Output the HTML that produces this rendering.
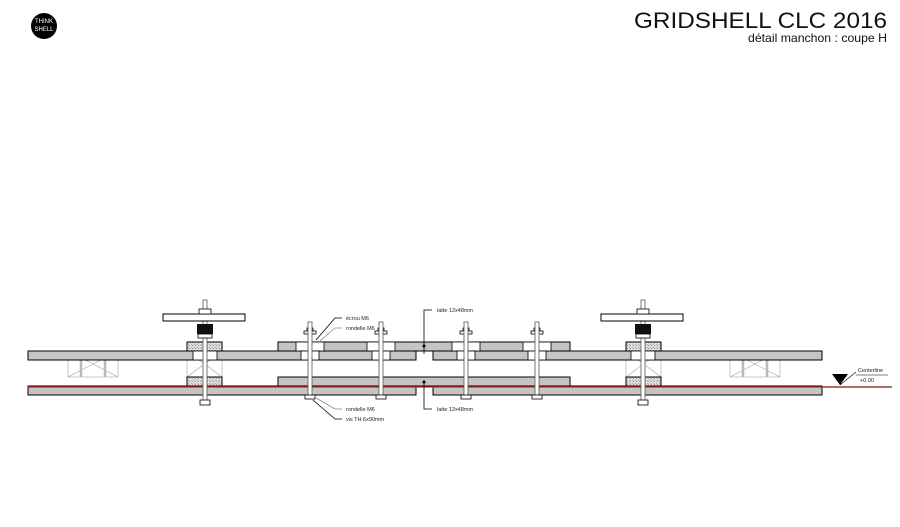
<!DOCTYPE html>
<html><head><meta charset="utf-8"><style>
html,body{margin:0;padding:0;background:#fff;width:900px;height:527px;overflow:hidden}
svg{display:block}
text{font-family:"Liberation Sans",sans-serif}
</style></head><body>
<svg width="900" height="527" viewBox="0 0 900 527" xmlns="http://www.w3.org/2000/svg">
<defs>
<pattern id="h" width="3" height="3" patternUnits="userSpaceOnUse"><rect width="3" height="3" fill="#ddd"/><rect width="1" height="1" fill="#999"/><rect x="2" y="2" width="1" height="1" fill="#aaa"/></pattern>
<g id="brace" stroke="#bbb" stroke-width="0.8" fill="none">
<rect x="0" y="0" width="50" height="26"/><line x1="0" y1="0" x2="50" y2="26"/><line x1="50" y1="0" x2="0" y2="26"/>
<line x1="13" y1="0" x2="13" y2="26" stroke-width="2.5"/><line x1="37" y1="0" x2="37" y2="26" stroke-width="2.5"/>
</g>
<g id="bolt">
<rect x="-3" y="-14" width="6" height="3" fill="#fff" stroke="#000" stroke-width="0.8"/>
<rect x="-6" y="-11" width="12" height="3" fill="#fff" stroke="#000" stroke-width="0.8"/>
<rect x="-2" y="-20" width="4" height="75" fill="#fff" stroke="#555" stroke-width="0.8"/>
<rect x="-5" y="53" width="10" height="4" fill="#fff" stroke="#000" stroke-width="0.8"/>
</g>
</defs>
<circle cx="44" cy="26" r="13" fill="#000"/>
<text x="44" y="23" font-size="6" fill="#fff" text-anchor="middle">THINK</text>
<text x="44" y="31" font-size="6" fill="#fff" text-anchor="middle">SHELL</text>
<text x="887" y="28" font-size="22" text-anchor="end" fill="#111" textLength="253" lengthAdjust="spacingAndGlyphs">GRIDSHELL CLC 2016</text>
<text x="887" y="42" font-size="12" text-anchor="end" fill="#111" textLength="139" lengthAdjust="spacingAndGlyphs">détail manchon : coupe H</text>

<use href="#brace" x="68" y="351"/>
<use href="#brace" x="730" y="351"/>
<g stroke="#bbb" stroke-width="0.8" fill="none">
<rect x="187" y="351" width="35" height="26"/><line x1="187" y1="351" x2="222" y2="377"/><line x1="222" y1="351" x2="187" y2="377"/>
<rect x="626" y="351" width="35" height="26"/><line x1="626" y1="351" x2="661" y2="377"/><line x1="661" y1="351" x2="626" y2="377"/>
</g>

<g fill="#c4c4c4" stroke="#000" stroke-width="1">
<rect x="28" y="351" width="388" height="9"/>
<rect x="433" y="351" width="389" height="9"/>
<rect x="278" y="342" width="292" height="9"/>
<rect x="278" y="377" width="292" height="9"/>
<rect x="28" y="386" width="388" height="9"/>
<rect x="433" y="386" width="389" height="9"/>
</g>
<g fill="url(#h)" stroke="#000" stroke-width="1">
<rect x="187" y="342" width="35" height="9"/><rect x="187" y="377" width="35" height="9"/>
<rect x="626" y="342" width="35" height="9"/><rect x="626" y="377" width="35" height="9"/>
</g>
<g fill="#fff" stroke="#000" stroke-width="0.8">
<rect x="193" y="351" width="24" height="9"/><rect x="631" y="351" width="24" height="9"/>
<rect x="296" y="342" width="28" height="9"/><rect x="301" y="351" width="18" height="9"/>
<rect x="367" y="342" width="28" height="9"/><rect x="372" y="351" width="18" height="9"/>
<rect x="452" y="342" width="28" height="9"/><rect x="457" y="351" width="18" height="9"/>
<rect x="523" y="342" width="28" height="9"/><rect x="528" y="351" width="18" height="9"/>
</g>
<line x1="28" y1="387" x2="892" y2="387" stroke="#d22" stroke-width="1.2"/>
<line x1="822" y1="387" x2="892" y2="387" stroke="#000" stroke-width="0.6"/>

<use href="#bolt" x="310" y="342"/>
<use href="#bolt" x="381" y="342"/>
<use href="#bolt" x="466" y="342"/>
<use href="#bolt" x="537" y="342"/>
<g id="clamp">
<rect x="203" y="300" width="4" height="104" fill="#fff" stroke="#555" stroke-width="0.8"/>
<rect x="163" y="314" width="82" height="7" fill="#fff" stroke="#000" stroke-width="1"/>
<rect x="199" y="309" width="12" height="5" fill="#fff" stroke="#000" stroke-width="0.8"/>
<rect x="197" y="324" width="16" height="10" fill="#111"/>
<rect x="198" y="334" width="14" height="4" fill="#fff" stroke="#000" stroke-width="0.8"/>
<rect x="200" y="400" width="10" height="5" fill="#fff" stroke="#000" stroke-width="0.8"/>
</g>
<use href="#clamp" x="438" y="0"/>

<g stroke="#000" stroke-width="0.8" fill="none">
<polyline points="424,354 424,310 432,310"/>
<polyline points="424,382 424,409 432,409"/>
<polyline points="316,340 335,318 342,318"/>
<polyline points="320,341 335,328 342,328" stroke="#888"/>
<polyline points="316,398 335,409 342,409" stroke="#888"/>
<polyline points="313,400 335,419 342,419"/>
</g>
<circle cx="424" cy="346" r="1.5"/><circle cx="424" cy="382" r="1.5"/>
<g font-size="5.5" fill="#222">
<text x="346" y="320">écrou M6</text>
<text x="346" y="330">rondelle M6</text>
<text x="346" y="411">rondelle M6</text>
<text x="346" y="421">vis TH 6x90mm</text>
<text x="437" y="312">latte 12x48mm</text>
<text x="437" y="411">latte 12x48mm</text>
<text x="858" y="372">Centerline</text>
<text x="860" y="382">+0.00</text>
</g>
<polygon points="832,374 848,374 840,385" fill="#000"/>
<line x1="840" y1="385" x2="856" y2="372" stroke="#000" stroke-width="0.6"/>
<line x1="856" y1="375" x2="888" y2="375" stroke="#000" stroke-width="0.5"/>
</svg>
</body></html>
